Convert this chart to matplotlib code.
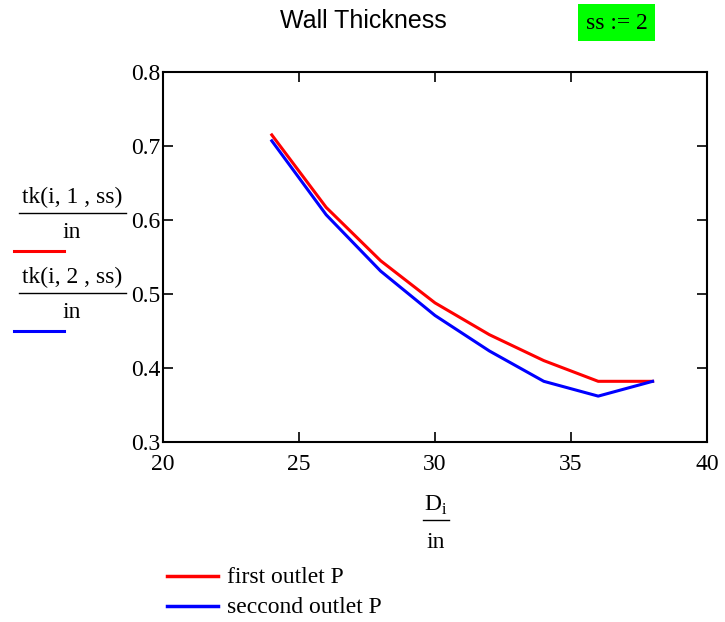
import matplotlib.pyplot as plt
from matplotlib.lines import Line2D
from matplotlib.patches import Rectangle

# data
d_in = [24, 26, 28, 30, 32, 34, 36, 38]
first_outlet = [0.715, 0.617, 0.545, 0.488, 0.445, 0.410, 0.382, 0.382]
second_outlet = [0.707, 0.607, 0.531, 0.471, 0.423, 0.382, 0.362, 0.382]
x_ticks = [20, 25, 30, 35, 40]
y_ticks = [0.3, 0.4, 0.5, 0.6, 0.7, 0.8]

serif = 'Liberation Serif'
fs = 17
W, H = 725, 622

fig = plt.figure(figsize=(7.25, 6.22), dpi=100)
ax = fig.add_axes([163 / W, 1 - 442 / H, (707 - 163) / W, (442 - 72) / H])

ax.plot(d_in, first_outlet, color='#ff0000', lw=2.2)
ax.plot(d_in, second_outlet, color='#0000ff', lw=2.2)

ax.set_xlim(20, 40)
ax.set_ylim(0.3, 0.8)
ax.set_xticks(x_ticks)
ax.set_yticks(y_ticks)
ax.set_xticklabels([str(t) for t in x_ticks], family=serif, fontsize=fs)
ax.set_yticklabels([f'{t:.1f}' for t in y_ticks], family=serif, fontsize=fs)
ax.tick_params(direction='in', length=7, width=1.2, top=True, right=True)
ax.tick_params(axis='y', pad=2)
ax.tick_params(axis='x', pad=9)
for s in ax.spines.values():
    s.set_linewidth(1.5)


def px(x, y):
    return x / W, 1 - y / H


def hline(x0, x1, y, col, lw):
    fig.add_artist(Line2D([x0 / W, x1 / W], [1 - y / H] * 2, color=col, lw=lw))


# title and ss box
fig.text(*px(363, 21), 'Wall Thickness', family='Liberation Sans', fontsize=18,
         ha='center', va='center')
fig.add_artist(Rectangle(px(578, 41), 77 / W, 37 / H, transform=fig.transFigure,
                         fc='#00ff00', ec='none'))
fig.text(*px(617, 29), 'ss := 2', family=serif, fontsize=fs, ha='center', va='baseline')

# y-axis label: fractions with legend swatches
for num, base, col in [('tk(i, 1 , ss)', 203, '#ff0000'), ('tk(i, 2 , ss)', 283, '#0000ff')]:
    fig.text(*px(72, base), num, family=serif, fontsize=fs, ha='center', va='baseline')
    hline(19, 126, base + 10, 'black', 1)
    fig.text(*px(72, base + 35), 'in', family=serif, fontsize=fs, ha='center', va='baseline')
    hline(14, 64, base + 48, col, 2.2)

# x-axis label fraction
fig.text(*px(436, 511), r'D$_\mathregular{i}$', family=serif, fontsize=fs,
         ha='center', va='baseline')
hline(423, 449, 520, 'black', 1)
fig.text(*px(436, 548), 'in', family=serif, fontsize=fs, ha='center', va='baseline')

# legend
for label, y, col in [('first outlet P', 576, '#ff0000'), ('seccond outlet P', 606, '#0000ff')]:
    hline(167, 218, y, col, 2.5)
    fig.text(*px(227, y + 7), label, family=serif, fontsize=fs, ha='left', va='baseline')

fig.savefig('out.png', dpi=100)
